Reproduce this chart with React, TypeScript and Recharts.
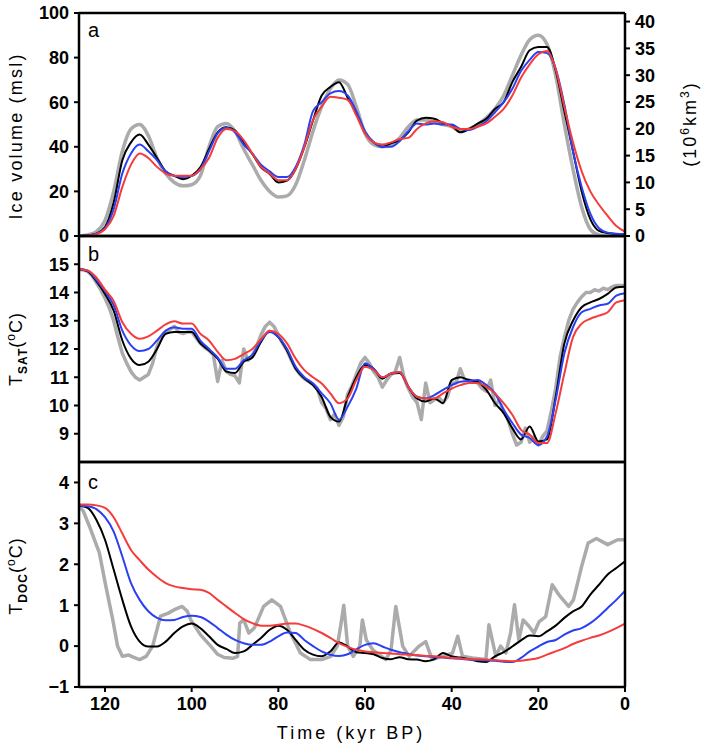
import { LineChart, Line, XAxis, YAxis, ReferenceLine } from 'recharts'

// time grid, kyr BP (2 kyr step)
const TIME = [
  126, 124, 122, 120, 118, 116, 114, 112, 110, 108,
  106, 104, 102, 100, 98, 96, 94, 92, 90, 88,
  86, 84, 82, 80, 78, 76, 74, 72, 70, 68,
  66, 64, 62, 60, 58, 56, 54, 52, 50, 48,
  46, 44, 42, 40, 38, 36, 34, 32, 30, 28,
  26, 24, 22, 20, 18, 16, 14, 12, 10, 8,
  6, 4, 2, 0,
]

// 1 kyr grid for the noisy grey T_SAT record
const TIME_FINE = [
  126, 125, 124, 123, 122, 121, 120, 119, 118, 117,
  116, 115, 114, 113, 112, 111, 110, 109, 108, 107,
  106, 105, 104, 103, 102, 101, 100, 99, 98, 97,
  96, 95, 94, 93, 92, 91, 90, 89, 88, 87,
  86, 85, 84, 83, 82, 81, 80, 79, 78, 77,
  76, 75, 74, 73, 72, 71, 70, 69, 68, 67,
  66, 65, 64, 63, 62, 61, 60, 59, 58, 57,
  56, 55, 54, 53, 52, 51, 50, 49, 48, 47,
  46, 45, 44, 43, 42, 41, 40, 39, 38, 37,
  36, 35, 34, 33, 32, 31, 30, 29, 28, 27,
  26, 25, 24, 23, 22, 21, 20, 19, 18, 17,
  16, 15, 14, 13, 12, 11, 10, 9, 8, 7,
  6, 5, 4, 3, 2, 1, 0,
]

// panel a: ice volume (msl)
const iceGray = [
  0, 0.5, 2, 7, 20, 38, 48, 50, 45, 35,
  28, 24, 22.5, 23, 27, 40, 49, 50.5, 47, 39,
  32, 25, 20, 17.5, 18, 23, 34, 47, 58, 66,
  70, 68, 58, 46, 41, 40, 41, 44, 49, 52,
  52, 51, 50, 49, 47, 48, 50, 53, 57, 63,
  72, 81, 88, 90, 86, 72, 50, 30, 13, 3,
  0.5, 0, 0, 0,
]
const iceBlack = [
  0, 0.3, 1, 4, 15, 34, 42, 45.5, 41, 35,
  29, 27, 25.5, 27, 30.8, 39, 46.5, 48.8, 47.3, 42,
  36.8, 30.8, 27.8, 24, 24.8, 30, 39.8, 51.8, 63, 66.8,
  69, 62, 55, 46.5, 42, 40, 41.6, 43, 46.5, 51.8,
  53, 52.6, 50.6, 49.5, 46.5, 48, 50.4, 52.6, 57, 60,
  69, 75.8, 83.3, 84.8, 84.8, 74.3, 56, 38, 20, 7.6,
  2.3, 1.3, 0.9, 0.8,
]
const iceBlue = [
  0, 0.3, 1, 3.5, 12, 28, 37, 41, 38, 34,
  29, 27, 26.5, 27, 30, 38, 46, 48.5, 46.5, 41,
  37, 32, 29, 26.5, 26.5, 31, 41, 56, 60, 64,
  65, 63, 56, 47, 42, 40, 40, 42.5, 47, 50.5,
  50, 50.5, 50, 50, 48, 47.5, 49, 51.5, 55.5, 60,
  66, 74, 79, 82.5, 82, 75, 59, 38, 22, 10,
  3.5, 1.5, 1, 0.8,
]
const iceRed = [
  0, 0.2, 0.8, 3, 9, 22, 32, 37, 35, 31,
  28, 27, 27, 27, 30, 35, 44, 48, 47, 43,
  37, 31, 28, 25, 25, 30, 40, 52, 58, 62.5,
  62, 61, 54, 46, 42, 41, 42, 43.5, 44, 48,
  50.5, 51.5, 51, 49, 48, 48, 49, 50.5, 53.5, 57,
  63, 71, 77, 81.5, 83, 75, 58, 42, 29, 20,
  14, 9, 4.5, 2,
]

// panel b: surface air temperature (degC)
const satGray = [
  14.82, 14.8, 14.75, 14.6, 14.35, 14.1, 13.8, 13.45, 13.0, 12.4,
  11.85, 11.5, 11.2, 11.0, 10.9, 11.0, 11.1, 11.5, 12.1, 12.4,
  12.6, 12.7, 12.8, 12.6, 12.55, 12.6, 12.6, 12.4, 12.2, 12.05,
  11.95, 11.8, 10.85, 11.6, 11.2, 11.1, 11.05, 10.8, 12.0, 11.6,
  11.75, 12.1, 12.5, 12.8, 12.95, 12.8, 12.5, 12.2, 11.95, 11.6,
  11.3, 11.1, 10.95, 10.85, 10.75, 10.6, 10.1, 9.9, 9.5, 9.7,
  9.3, 9.6, 10.4, 10.7, 11.1, 11.5, 11.7, 11.5, 11.2, 11.0,
  10.65, 10.9, 11.1, 11.2, 11.7, 11.0, 10.6, 10.3, 10.1, 9.5,
  10.8, 10.1, 10.2, 10.3, 10.1, 10.3, 10.8, 10.8, 11.3, 10.9,
  10.9, 10.85, 10.8, 10.6, 10.5, 10.9, 10.0, 10.2, 9.8, 9.5,
  9.0, 8.6, 8.7, 9.2, 8.7, 8.9, 8.6, 8.9, 9.1, 9.8,
  10.6, 11.7, 12.4, 13.0, 13.4, 13.65, 13.85, 14.0, 14.0, 14.1,
  14.05, 14.15, 14.1, 14.2, 14.25, 14.25, 14.25,
]
const satBlack = [
  14.82, 14.75, 14.4, 13.95, 13.36, 12.3, 11.66, 11.43, 11.55, 12.0,
  12.54, 12.6, 12.6, 12.6, 12.2, 11.95, 11.66, 11.2, 11.15, 11.55,
  11.7, 12.25, 12.65, 12.42, 11.95, 11.3, 10.96, 10.72, 10.3, 9.6,
  9.43, 10.3, 11.0, 11.43, 11.3, 10.95, 11.13, 11.15, 10.66, 10.25,
  10.14, 10.25, 10.08, 10.9, 11.0, 10.9, 10.84, 10.55, 10.08, 9.73,
  9.2, 8.8, 9.26, 8.73, 8.8, 10.3, 12.19, 13.0, 13.48, 13.65,
  13.77, 13.95, 14.18, 14.2,
]
const satBlue = [
  14.82, 14.77, 14.45, 14.05, 13.55, 12.65, 12.13, 11.93, 12.0, 12.3,
  12.65, 12.77, 12.72, 12.72, 12.3, 12.0, 11.7, 11.3, 11.3, 11.6,
  11.8, 12.3, 12.6, 12.42, 12.0, 11.37, 11.0, 10.78, 10.43, 10.08,
  9.5, 9.96, 10.6, 11.5, 11.3, 11.0, 11.13, 11.19, 10.66, 10.31,
  10.25, 10.37, 10.55, 10.72, 10.84, 10.87, 10.9, 10.72, 10.43, 9.85,
  9.38, 8.97, 8.85, 8.6, 8.9, 10.2, 11.84, 12.77, 13.3, 13.42,
  13.54, 13.6, 13.89, 13.97,
]
const satRed = [
  14.82, 14.78, 14.53, 14.1, 13.7, 12.95, 12.54, 12.36, 12.45, 12.65,
  12.87, 12.98, 12.9, 12.9, 12.54, 12.3, 11.9, 11.6, 11.65, 11.82,
  12.0, 12.35, 12.65, 12.54, 12.2, 11.66, 11.25, 11.0, 10.78, 10.43,
  10.08, 10.25, 10.9, 11.37, 11.25, 11.0, 11.13, 11.19, 10.66, 10.31,
  10.25, 10.25, 10.43, 10.6, 10.72, 10.8, 10.8, 10.66, 10.43, 10.08,
  9.67, 9.14, 8.97, 8.67, 8.67, 9.73, 11.13, 12.42, 12.9, 13.07,
  13.18, 13.3, 13.65, 13.73,
]

// panel c: deep ocean temperature (degC); grey record on its own time axis
const docGrayTime = [
  126, 125, 123.6, 121.3, 119.8, 118.2, 117.1, 116, 114.5, 113.5,
  112, 110.5, 109, 107.2, 105.5, 104, 102.2, 101, 100.2, 98,
  95.6, 94, 92.5, 90.5, 89.4, 88.9, 88, 86.8, 85.5, 83.4,
  81.5, 79.5, 77.2, 74.9, 72.6, 70, 67.9, 66.4, 65.6, 64.9,
  64, 62.7, 61.2, 60.6, 59.7, 58.2, 55.2, 54, 52.9, 51.3,
  49.8, 47.5, 46, 44.5, 42.1, 39.8, 38.6, 37.5, 35.2, 32.1,
  31.4, 29.8, 28.7, 27.5, 26.4, 25.5, 24.5, 23.5, 22.1, 21,
  19.8, 18.3, 16.8, 15.3, 13, 11.9, 10, 8.5, 6.6, 4,
  1.7, 0,
]
const docGray = [
  3.42, 3.3, 2.93, 2.28, 1.46, 0.64, 0, -0.25, -0.22, -0.27,
  -0.33, -0.25, 0, 0.73, 0.8, 0.89, 0.97, 0.85, 0.64, 0.28,
  0, -0.2, -0.28, -0.3, -0.25, 0.56, 0.64, 0.32, 0.45, 0.97,
  1.13, 0.97, 0.32, -0.17, -0.33, -0.33, -0.25, 0, 0.5, 1.0,
  0, -0.25, 0, 0.64, 0.15, -0.09, -0.33, -0.1, 0.97, 0,
  -0.25, 0, 0.11, -0.33, -0.25, -0.17, 0.24, -0.25, -0.29, -0.33,
  0.52, -0.25, 0, -0.17, 0.32, 1.01, 0.15, 0.64, 0.48, 0.32,
  0.6, 0.72, 1.5, 1.26, 0.97, 1.13, 1.95, 2.52, 2.63, 2.48,
  2.6, 2.6,
]
const docBlack = [
  3.43, 3.38, 3.09, 2.6, 1.87, 1.13, 0.48, 0.11, -0.01, -0.01,
  0.11, 0.32, 0.48, 0.55, 0.44, 0.24, 0.03, -0.07, -0.17, -0.13,
  0.03, 0.2, 0.4, 0.5, 0.4, 0.15, -0.09, -0.21, -0.25, -0.13,
  0.09, -0.01, -0.15, -0.17, -0.2, -0.29, -0.32, -0.27, -0.32, -0.33,
  -0.37, -0.32, -0.17, -0.25, -0.28, -0.32, -0.37, -0.39, -0.25, -0.15,
  -0.01, 0.14, 0.26, 0.24, 0.36, 0.5, 0.69, 0.85, 0.97, 1.26,
  1.5, 1.75, 1.91, 2.07,
]
const docBlue = [
  3.43, 3.42, 3.35, 3.15, 2.8, 2.19, 1.54, 1.13, 0.85, 0.69,
  0.63, 0.64, 0.71, 0.74, 0.71, 0.6, 0.44, 0.28, 0.15, 0.07,
  0.03, 0.03, 0.11, 0.24, 0.33, 0.32, 0.15, 0, -0.13, -0.21,
  -0.24, -0.2, -0.08, 0.03, 0.07, -0.01, -0.09, -0.15, -0.19, -0.23,
  -0.25, -0.27, -0.28, -0.3, -0.31, -0.33, -0.34, -0.35, -0.36, -0.38,
  -0.39, -0.29, -0.13, -0.01, 0.1, 0.15, 0.28, 0.38, 0.44, 0.56,
  0.73, 0.93, 1.13, 1.35,
]
const docRed = [
  3.46, 3.46, 3.44, 3.38, 3.15, 2.75, 2.35, 2.1, 1.87, 1.69,
  1.54, 1.46, 1.42, 1.39, 1.38, 1.3, 1.13, 0.97, 0.81, 0.66,
  0.56, 0.5, 0.5, 0.52, 0.55, 0.55, 0.5, 0.42, 0.32, 0.2,
  0.07, -0.02, -0.09, -0.13, -0.15, -0.17, -0.18, -0.2, -0.21, -0.22,
  -0.24, -0.25, -0.27, -0.29, -0.3, -0.32, -0.32, -0.33, -0.34, -0.36,
  -0.37, -0.36, -0.33, -0.29, -0.21, -0.13, -0.05, 0.05, 0.13, 0.2,
  0.26, 0.34, 0.44, 0.55,
]

const xTicks = [120, 100, 80, 60, 40, 20, 0]
const iceTicks = [0, 20, 40, 60, 80, 100]
const volTicks = [0, 5, 10, 15, 20, 25, 30, 35, 40]
const satTicks = [9, 10, 11, 12, 13, 14, 15]
const docTicks = [-1, 0, 1, 2, 3, 4]

const rows = (ts: number[], vs: number[]) => ts.map((t, i) => ({ t, v: vs[i] }))
const minus = (v: number) => String(v).replace('-', '\u2212')

const FONT = '"Liberation Sans", Arial, sans-serif'
const AXIS_LINE = { stroke: '#000', strokeWidth: 2.5 }
const TICK_LINE = { stroke: '#000', strokeWidth: 2 }
const TICK = { fontSize: 18, fill: '#000', fontFamily: FONT, fontWeight: 'bold' }
const W = 706

const series = [
  { color: '#ababab', width: 3.5 },
  { color: '#000000', width: 2 },
  { color: '#2a40f2', width: 2 },
  { color: '#f53c3c', width: 2 },
]

const xAxis = (showTicks: boolean) => (
  <XAxis
    dataKey="t"
    type="number"
    domain={[0, 126]}
    reversed
    allowDataOverflow
    ticks={xTicks}
    interval={0}
    tick={showTicks ? TICK : false}
    tickLine={showTicks ? TICK_LINE : false}
    tickSize={5}
    tickMargin={5}
    height={showTicks ? 30 : 0}
    axisLine={showTicks ? AXIS_LINE : false}
  />
)

const border = (y: number) => (
  <ReferenceLine yAxisId="left" y={y} stroke="#000" strokeWidth={2.5} ifOverflow="visible" />
)

// grey records in b and c are spiky, so they stay piecewise linear
const lines = (sets: { t: number; v: number }[][], greyLinear: boolean) =>
  sets.map((d, i) => (
    <Line
      key={i}
      yAxisId="left"
      data={d}
      dataKey="v"
      type={i === 0 && greyLinear ? 'linear' : 'monotone'}
      stroke={series[i].color}
      strokeWidth={series[i].width}
      strokeLinejoin="round"
      dot={false}
      activeDot={false}
      isAnimationActive={false}
    />
  ))

// invisible series so the right-hand axis is drawn
const ghost = (d: { t: number; v: number }[]) => (
  <Line yAxisId="right" data={d} dataKey="v" stroke="none" dot={false} activeDot={false} isAnimationActive={false} />
)

const rotated = (left: number, top: number, content: React.ReactNode, extra = {}) => (
  <div
    style={{
      position: 'absolute',
      left,
      top,
      transform: 'translate(-50%, -50%) rotate(-90deg)',
      whiteSpace: 'nowrap',
      fontFamily: FONT,
      fontSize: 18,
      lineHeight: '20px',
      color: '#000',
      ...extra,
    }}
  >
    {content}
  </div>
)

const letter = (top: number, s: string) => (
  <div style={{ position: 'absolute', left: 88, top, fontFamily: FONT, fontSize: 20, lineHeight: '20px' }}>{s}</div>
)

const small = { fontSize: 12, lineHeight: 0 }

export default function App() {
  const panelA = [rows(TIME, iceGray), rows(TIME, iceBlack), rows(TIME, iceBlue), rows(TIME, iceRed)]
  const panelB = [rows(TIME_FINE, satGray), rows(TIME, satBlack), rows(TIME, satBlue), rows(TIME, satRed)]
  const panelC = [rows(docGrayTime, docGray), rows(TIME, docBlack), rows(TIME, docBlue), rows(TIME, docRed)]

  return (
    <div style={{ position: 'absolute', left: 0, top: 0, width: W, height: 748, background: '#fff' }}>
      <style>{'svg.recharts-surface{overflow:visible}'}</style>

      <div style={{ position: 'absolute', left: 0, top: 0 }}>
        <LineChart width={W} height={236} margin={{ top: 13, right: 0, bottom: 0, left: 0 }}>
          {xAxis(false)}
          <YAxis yAxisId="left" type="number" domain={[0, 100]} ticks={iceTicks} interval={0} width={79}
            tick={TICK} tickLine={TICK_LINE} tickSize={5} tickMargin={5} axisLine={AXIS_LINE} />
          <YAxis yAxisId="right" orientation="right" type="number" domain={[0, 41.6]} allowDataOverflow
            ticks={volTicks} interval={0} width={81}
            tick={TICK} tickLine={TICK_LINE} tickSize={5} tickMargin={5} axisLine={AXIS_LINE} />
          {border(100)}
          {border(0)}
          {lines(panelA, false)}
          {ghost(panelA[1])}
        </LineChart>
      </div>

      <div style={{ position: 'absolute', left: 0, top: 236 }}>
        <LineChart width={W} height={226} margin={{ top: 0, right: 0, bottom: 0, left: 0 }}>
          {xAxis(false)}
          <YAxis yAxisId="left" type="number" domain={[8, 16]} ticks={satTicks} interval={0} width={79}
            tick={TICK} tickLine={TICK_LINE} tickSize={5} tickMargin={5} axisLine={AXIS_LINE} />
          <YAxis yAxisId="right" orientation="right" type="number" domain={[8, 16]} allowDataOverflow width={81}
            tick={false} tickLine={false} axisLine={AXIS_LINE} />
          {border(16)}
          {border(8)}
          {lines(panelB, true)}
          {ghost(panelB[1])}
        </LineChart>
      </div>

      <div style={{ position: 'absolute', left: 0, top: 462 }}>
        <LineChart width={W} height={286} margin={{ top: 0, right: 0, bottom: 31, left: 0 }}>
          {xAxis(true)}
          <YAxis yAxisId="left" type="number" domain={[-1, 4.5]} ticks={docTicks} interval={0} width={79}
            tickFormatter={minus}
            tick={TICK} tickLine={TICK_LINE} tickSize={5} tickMargin={5} axisLine={AXIS_LINE} />
          <YAxis yAxisId="right" orientation="right" type="number" domain={[-1, 4.5]} allowDataOverflow width={81}
            tick={false} tickLine={false} axisLine={AXIS_LINE} />
          {border(4.5)}
          {lines(panelC, true)}
          {ghost(panelC[1])}
        </LineChart>
      </div>

      {letter(20, 'a')}
      {letter(244, 'b')}
      {letter(472, 'c')}

      {rotated(16, 136, 'Ice volume (msl)', { letterSpacing: 2.2 })}
      {rotated(16, 349, <span>T<sub style={{ ...small, fontWeight: 'bold' }}>SAT</sub>(<sup style={small}>o</sup>C)</span>, { letterSpacing: 1 })}
      {rotated(16, 576, <span>T<sub style={{ ...small, fontWeight: 'bold' }}>DOC</sub>(<sup style={small}>o</sup>C)</span>, { letterSpacing: 1 })}
      {rotated(690, 124, <span>(10<sup style={small}>6</sup>km<sup style={small}>3</sup>)</span>, { letterSpacing: 2 })}

      <div style={{ position: 'absolute', left: 351, top: 733, transform: 'translate(-50%, -50%)', whiteSpace: 'nowrap', fontFamily: FONT, fontSize: 18, letterSpacing: 3 }}>
        Time (kyr BP)
      </div>
    </div>
  )
}
